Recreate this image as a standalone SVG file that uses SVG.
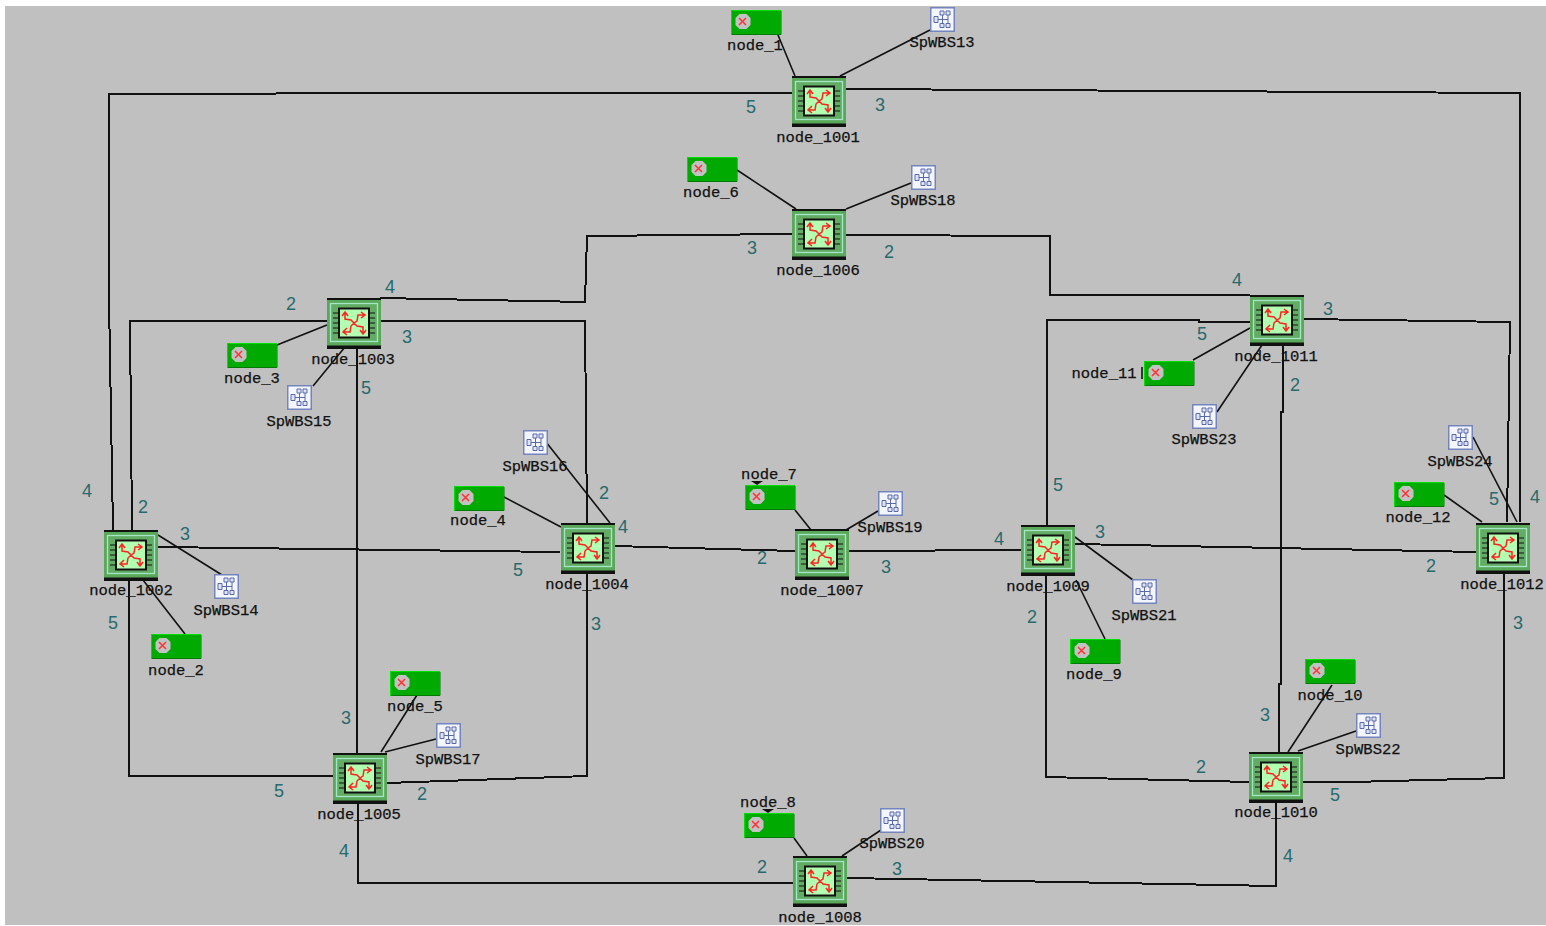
<svg xmlns="http://www.w3.org/2000/svg" width="1546" height="926" viewBox="0 0 1546 926">
<style>
.c{fill:none;stroke:#111;stroke-width:2;shape-rendering:crispEdges}
.s{fill:none;stroke:#111;stroke-width:1.600}
.n{font-family:"Liberation Mono",monospace;font-size:15.5px;fill:#111;text-anchor:middle;stroke:#111;stroke-width:.25}
.p{font-family:"Liberation Sans",sans-serif;font-size:18px;fill:#266a6e;text-anchor:middle}
</style>
<defs>
<symbol id="router" width="54" height="51" viewBox="0 0 54 51" overflow="visible">
<rect x="0" y="0" width="54" height="51" fill="#5aa85a"/>
<rect x="0" y="0" width="54" height="2" fill="#111"/>
<rect x="0" y="47.500" width="54" height="3.500" fill="#111"/>
<rect x="3.500" y="5.500" width="47" height="38" fill="#63ac63" stroke="#a6e6c8" stroke-width="1.300"/>
<path d="M6 15h5M6 20h5M6 25h5M6 30h5M6 35h5M43 15h5M43 20h5M43 25h5M43 30h5M43 35h5" stroke="#111" stroke-width="1.200"/>
<rect x="12" y="10.500" width="30" height="29" fill="#b2ffb2" stroke="#111" stroke-width="2"/>
<path d="M18 15v6l6 1 3 3 3 3 6 1v6M38 17h-7l-1 6-3 2-3 3-1 6h-7M15 18l3-4 3 4M34 14l4 3-4 3M33 32l3 4 3-4M20 30l-4 4 4 3" fill="none" stroke="#f22" stroke-width="1.500"/>
</symbol>
<symbol id="host" width="50" height="25" viewBox="0 0 50 25" overflow="visible">
<rect x="0.500" y="0.500" width="49" height="24" fill="#00aa00" stroke="#00e000"/>
<path d="M1 24.500h49V1" fill="none" stroke="#007a00"/>
<path d="M8.500 4h7l4 4v7l-4 4h-7l-4-4V8z" fill="#c2c2c2"/>
<path d="M8 8l7 7M15 8l-7 7" stroke="#f33" stroke-width="1.500"/>
</symbol>
<symbol id="sw" width="25" height="25" viewBox="0 0 25 25" overflow="visible">
<rect x="0.750" y="0.750" width="23.500" height="23.500" fill="#f4f6ff" stroke="#7484bc" stroke-width="1.500"/>
<path d="M7 12.500h11M12.500 7v11M18 7v11" stroke="#5a6aa8" fill="none"/>
<path d="M4 9.500h4v6h-4zM10 4h4v4h-4zM16 4h4v4h-4zM10 16.500h4v4h-4zM16 16.500h4v4h-4z" fill="#dfe4fb" stroke="#5a6aa8"/>
</symbol>
</defs>
<rect x="0" y="0" width="1546" height="926" fill="#fff"/>
<rect x="5" y="6" width="1541" height="919" fill="#c0c0c0"/>

<g id="connectors">
<path class="c" d="M792 93H450L109 94V300L113 530"/>
<path class="c" d="M846 89L1180 91L1520 93V522"/>
<path class="c" d="M792 234L587 236L585 302L380 298"/>
<path class="c" d="M846 235L1050 236V295H1250"/>
<path class="c" d="M327 321H130L132 530"/>
<path class="c" d="M380 321H585L587 523"/>
<path class="c" d="M587 572V776L387 783"/>
<path class="c" d="M357 345V753"/>
<path class="c" d="M158 547L560 552"/>
<path class="c" d="M129 578V776H333"/>
<path class="c" d="M358 802V883H793"/>
<path class="c" d="M614 546L795 551"/>
<path class="c" d="M849 551L1022 550"/>
<path class="c" d="M1075 544L1477 552"/>
<path class="c" d="M847 878L1276 886V801"/>
<path class="c" d="M1047 525V320H1199V322H1250"/>
<path class="c" d="M1046 573V777L1250 782"/>
<path class="c" d="M1303 319L1510 322L1507 522"/>
<path class="c" d="M1283 345V412H1281V684H1279V752"/>
<path class="c" d="M1303 782H1352L1504 778V572"/>
<path class="s" d="M778 35L795 76"/>
<path class="s" d="M930 30L840 76"/>
<path class="s" d="M737 170L796 209"/>
<path class="s" d="M911 183L846 209"/>
<path class="s" d="M277 345L327 325"/>
<path class="s" d="M313 386L345 347"/>
<path class="s" d="M158 535L222 575"/>
<path class="s" d="M185 634L143 580"/>
<path class="s" d="M504 497L561 527"/>
<path class="s" d="M546 442L610 523"/>
<path class="s" d="M381 752L417 695"/>
<path class="s" d="M436 739L385 752"/>
<path class="s" d="M795 510L811 530"/>
<path class="s" d="M878 511L846 530"/>
<path class="s" d="M1105 639L1076 580"/>
<path class="s" d="M1133 580L1075 537"/>
<path class="s" d="M794 838L807 856"/>
<path class="s" d="M881 830L842 856"/>
<path class="s" d="M1288 752L1332 685"/>
<path class="s" d="M1356 731L1298 751"/>
<path class="s" d="M1193 360L1250 328"/>
<path class="s" d="M1217 412L1262 345"/>
<path class="s" d="M1444 495L1482 522"/>
<path class="s" d="M1473 437L1517 522"/>
<path d="M751 481h12l-6 4zM762 809h12l-6 4z" fill="#111"/>
<path class="s" d="M1142 367v12"/>
</g>

<g id="node_1001"><use href="#router" x="792" y="76"/><text class="n" x="818" y="142">node_1001</text><text class="p" x="751" y="113">5</text><text class="p" x="880" y="111">3</text></g>
<g id="node_1006"><use href="#router" x="792" y="209"/><text class="n" x="818" y="275">node_1006</text><text class="p" x="752" y="254">3</text><text class="p" x="889" y="258">2</text></g>
<g id="node_1003"><use href="#router" x="327" y="298"/><text class="n" x="353" y="364">node_1003</text><text class="p" x="291" y="310">2</text><text class="p" x="390" y="293">4</text><text class="p" x="407" y="343">3</text><text class="p" x="366" y="394">5</text></g>
<g id="node_1002"><use href="#router" x="104" y="530"/><text class="n" x="131" y="595">node_1002</text><text class="p" x="87" y="497">4</text><text class="p" x="143" y="513">2</text><text class="p" x="185" y="540">3</text><text class="p" x="113" y="629">5</text></g>
<g id="node_1004"><use href="#router" x="561" y="523"/><text class="n" x="587" y="589">node_1004</text><text class="p" x="604" y="499">2</text><text class="p" x="623" y="533">4</text><text class="p" x="518" y="576">5</text><text class="p" x="596" y="630">3</text></g>
<g id="node_1005"><use href="#router" x="333" y="753"/><text class="n" x="359" y="819">node_1005</text><text class="p" x="346" y="724">3</text><text class="p" x="279" y="797">5</text><text class="p" x="422" y="800">2</text><text class="p" x="344" y="857">4</text></g>
<g id="node_1007"><use href="#router" x="795" y="529"/><text class="n" x="822" y="595">node_1007</text><text class="p" x="762" y="564">2</text><text class="p" x="886" y="573">3</text></g>
<g id="node_1008"><use href="#router" x="793" y="856"/><text class="n" x="820" y="922">node_1008</text><text class="p" x="762" y="873">2</text><text class="p" x="897" y="875">3</text></g>
<g id="node_1009"><use href="#router" x="1021" y="525"/><text class="n" x="1048" y="591">node_1009</text><text class="p" x="1058" y="491">5</text><text class="p" x="999" y="545">4</text><text class="p" x="1100" y="538">3</text><text class="p" x="1032" y="623">2</text></g>
<g id="node_1010"><use href="#router" x="1249" y="752"/><text class="n" x="1276" y="817">node_1010</text><text class="p" x="1265" y="721">3</text><text class="p" x="1201" y="773">2</text><text class="p" x="1335" y="801">5</text><text class="p" x="1288" y="862">4</text></g>
<g id="node_1011"><use href="#router" x="1250" y="295"/><text class="n" x="1276" y="361">node_1011</text><text class="p" x="1237" y="286">4</text><text class="p" x="1328" y="315">3</text><text class="p" x="1202" y="340">5</text><text class="p" x="1295" y="391">2</text></g>
<g id="node_1012"><use href="#router" x="1476" y="523"/><text class="n" x="1502" y="589">node_1012</text><text class="p" x="1494" y="505">5</text><text class="p" x="1535" y="503">4</text><text class="p" x="1431" y="572">2</text><text class="p" x="1518" y="629">3</text></g>

<g id="node_1"><use href="#host" x="731" y="10"/><text class="n" x="755" y="50">node_1</text></g>
<g id="node_6"><use href="#host" x="687" y="157"/><text class="n" x="711" y="197">node_6</text></g>
<g id="node_3"><use href="#host" x="227" y="343"/><text class="n" x="252" y="383">node_3</text></g>
<g id="node_2"><use href="#host" x="151" y="634"/><text class="n" x="176" y="675">node_2</text></g>
<g id="node_4"><use href="#host" x="454" y="486"/><text class="n" x="478" y="525">node_4</text></g>
<g id="node_5"><use href="#host" x="390" y="671"/><text class="n" x="415" y="711">node_5</text></g>
<g id="node_7"><use href="#host" x="745" y="485"/><text class="n" x="769" y="479">node_7</text></g>
<g id="node_8"><use href="#host" x="744" y="813"/><text class="n" x="768" y="807">node_8</text></g>
<g id="node_9"><use href="#host" x="1070" y="639"/><text class="n" x="1094" y="679">node_9</text></g>
<g id="node_10"><use href="#host" x="1305" y="659"/><text class="n" x="1330" y="700">node_10</text></g>
<g id="node_11"><use href="#host" x="1144" y="361"/><text class="n" x="1104" y="378">node_11</text></g>
<g id="node_12"><use href="#host" x="1394" y="482"/><text class="n" x="1418" y="522">node_12</text></g>

<g id="SpWBS13"><use href="#sw" x="930" y="7"/><text class="n" x="942" y="47">SpWBS13</text></g>
<g id="SpWBS14"><use href="#sw" x="214" y="574"/><text class="n" x="226" y="615">SpWBS14</text></g>
<g id="SpWBS15"><use href="#sw" x="287" y="385"/><text class="n" x="299" y="426">SpWBS15</text></g>
<g id="SpWBS16"><use href="#sw" x="523" y="430"/><text class="n" x="535" y="471">SpWBS16</text></g>
<g id="SpWBS17"><use href="#sw" x="436" y="723"/><text class="n" x="448" y="764">SpWBS17</text></g>
<g id="SpWBS18"><use href="#sw" x="911" y="165"/><text class="n" x="923" y="205">SpWBS18</text></g>
<g id="SpWBS19"><use href="#sw" x="878" y="491"/><text class="n" x="890" y="532">SpWBS19</text></g>
<g id="SpWBS20"><use href="#sw" x="880" y="808"/><text class="n" x="892" y="848">SpWBS20</text></g>
<g id="SpWBS21"><use href="#sw" x="1132" y="579"/><text class="n" x="1144" y="620">SpWBS21</text></g>
<g id="SpWBS22"><use href="#sw" x="1356" y="713"/><text class="n" x="1368" y="754">SpWBS22</text></g>
<g id="SpWBS23"><use href="#sw" x="1192" y="404"/><text class="n" x="1204" y="444">SpWBS23</text></g>
<g id="SpWBS24"><use href="#sw" x="1448" y="425"/><text class="n" x="1460" y="466">SpWBS24</text></g>
</svg>
